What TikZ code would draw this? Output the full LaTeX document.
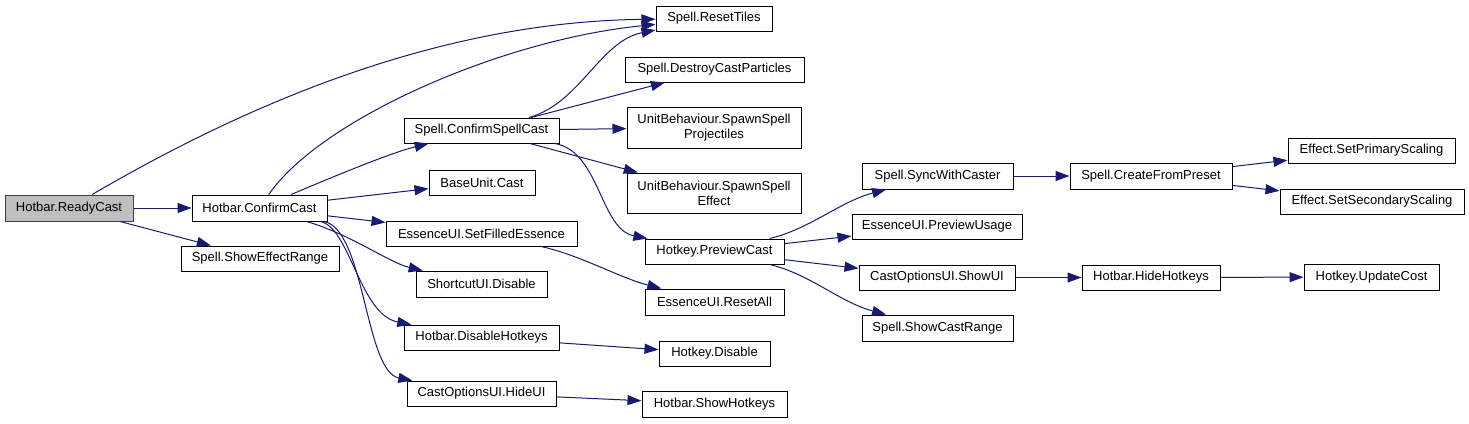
\documentclass[tikz,border=0pt]{standalone}
\usepackage{fontspec}
\setmainfont{Liberation Sans}
\usetikzlibrary{arrows.meta}
\definecolor{edgecol}{RGB}{25,25,112}
\definecolor{rootfill}{RGB}{191,191,191}
\definecolor{rootline}{RGB}{64,64,64}
\tikzset{
  box/.style={draw=black, line width=1pt, fill=white, inner sep=0pt, align=center,
    font=\fontsize{13}{15}\selectfont},
  rootbox/.style={box, draw=rootline, fill=rootfill},
  call/.style={draw=edgecol, line width=1pt,
    -{Triangle[length=14pt,width=10pt]}, fill=none},
}
\newcommand{\bx}[7][box]{\node[#1, minimum width=#5pt, minimum height=#6pt] (#2) at (#3,#4) {#7};}
\begin{document}
\begin{tikzpicture}[x=1pt,y=-1pt]
\useasboundingbox (0,0) rectangle (1469,423);
% nodes
\bx[rootbox]{rc}{69}{208}{128}{26}{Hotbar.ReadyCast}
\bx{cc}{259.5}{208}{135}{26}{Hotbar.ConfirmCast}
\bx{ser}{260}{258.5}{158}{25}{Spell.ShowEffectRange}
\bx{rt}{714}{18.5}{116}{25}{Spell.ResetTiles}
\bx{dcp}{714.5}{69.5}{179}{25}{Spell.DestroyCastParticles}
\bx{csc}{481.5}{130.5}{155}{25}{Spell.ConfirmSpellCast}
\bx{ssp}{714}{127.5}{174}{41}{UnitBehaviour.SpawnSpell\\Projectiles}
\bx{buc}{482}{182.5}{106}{25}{BaseUnit.Cast}
\bx{sse}{714}{193}{174}{40}{UnitBehaviour.SpawnSpell\\Effect}
\bx{sfe}{481.5}{233.5}{191}{25}{EssenceUI.SetFilledEssence}
\bx{pc}{714.5}{251.5}{139}{25}{Hotkey.PreviewCast}
\bx{sud}{481.5}{284}{131}{26}{ShortcutUI.Disable}
\bx{ra}{714.5}{302}{139}{26}{EssenceUI.ResetAll}
\bx{dh}{481.5}{337.5}{155}{25}{Hotbar.DisableHotkeys}
\bx{hd}{714.5}{353.5}{111}{25}{Hotkey.Disable}
\bx{hui}{481.5}{393.5}{149}{25}{CastOptionsUI.HideUI}
\bx{sh}{714.5}{404}{145}{26}{Hotbar.ShowHotkeys}
\bx{swc}{937.5}{176}{151}{26}{Spell.SyncWithCaster}
\bx{pu}{937}{226.5}{170}{25}{EssenceUI.PreviewUsage}
\bx{sui}{937}{277.5}{156}{25}{CastOptionsUI.ShowUI}
\bx{scr}{937.5}{328}{151}{26}{Spell.ShowCastRange}
\bx{cfp}{1151}{176}{162}{26}{Spell.CreateFromPreset}
\bx{hh}{1151}{277.5}{138}{25}{Hotbar.HideHotkeys}
\bx{sps}{1371.5}{150.5}{167}{25}{Effect.SetPrimaryScaling}
\bx{sss}{1372}{201.5}{184}{25}{Effect.SetSecondaryScaling}
\bx{uc}{1371.5}{277}{135}{26}{Hotkey.UpdateCost}
% edges
\draw[call] (rc) -- (cc);
\draw[call] (rc) -- (ser);
\draw[call] (rc) .. controls (220,120) and (420,22) .. (rt);
\draw[call] (cc) .. controls (320,120) and (500,40) .. (rt);
\draw[call] (cc) .. controls (330,178) and (390,153) .. (csc);
\draw[call] (cc) -- (buc);
\draw[call] (cc) -- (sfe);
\draw[call] (cc) .. controls (350,234) and (390,263) .. (sud);
\draw[call] (cc) .. controls (350,228) and (360,315) .. (dh);
\draw[call] (cc) .. controls (365,230) and (365,371.6) .. (hui);
\draw[call] (csc) .. controls (580,103.5) and (600,41) .. (rt);
\draw[call] (csc) -- (dcp);
\draw[call] (csc) -- (ssp);
\draw[call] (csc) -- (sse);
\draw[call] (csc) .. controls (600,151.5) and (600,229.3) .. (pc);
\draw[call] (sfe) .. controls (580,255) and (620,278) .. (ra);
\draw[call] (dh) -- (hd);
\draw[call] (hui) -- (sh);
\draw[call] (pc) .. controls (810,229) and (840,201.6) .. (swc);
\draw[call] (pc) -- (pu);
\draw[call] (pc) -- (sui);
\draw[call] (pc) .. controls (810,274) and (840,302.4) .. (scr);
\draw[call] (swc) -- (cfp);
\draw[call] (cfp) -- (sps);
\draw[call] (cfp) -- (sss);
\draw[call] (sui) -- (hh);
\draw[call] (hh) -- (uc);
\end{tikzpicture}
\end{document}
